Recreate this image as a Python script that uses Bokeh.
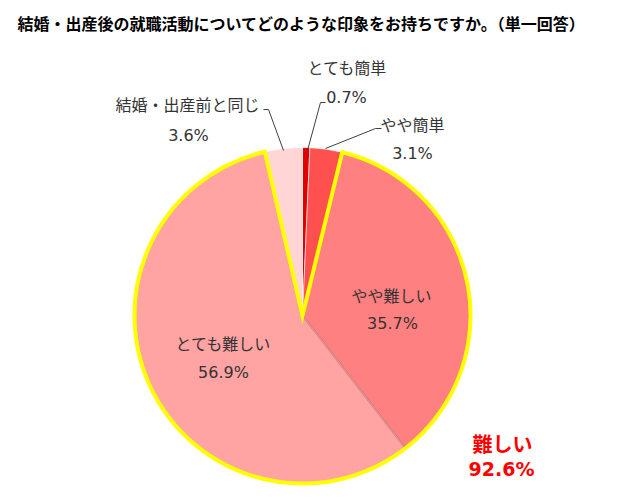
import numpy as np
from bokeh.plotting import figure
from bokeh.models import Range1d, ColumnDataSource
from bokeh.core.properties import value
from bokeh.embed import file_html
from bokeh.resources import INLINE

# ---- data ----
title = "結婚・出産後の就職活動についてどのような印象をお持ちですか。（単一回答）"
categories = ["とても簡単", "やや簡単", "やや難しい", "とても難しい", "結婚・出産前と同じ"]
values = [0.7, 3.1, 35.7, 56.9, 3.6]
colors = ["#E00000", "#FF5050", "#FF8080", "#FFA3A3", "#FFD5D5"]
group_label = "難しい"
group_members = ["やや難しい", "とても難しい"]

W, H = 622, 503
FONT = value("Noto Sans CJK JP")
NUMFONT = value("DejaVu Sans")

def Y(py):
    return H - py

p = figure(width=W, height=H, x_range=Range1d(0, W), y_range=Range1d(0, H),
           output_backend="svg", toolbar_location=None, min_border=0)
p.axis.visible = False
p.grid.visible = False
p.outline_line_color = None
p.background_fill_color = "white"
p.border_fill_color = "white"

cx, cy, r = 302, Y(315), 168

vals = np.array(values, dtype=float)
frac = vals / vals.sum()
cum_end = np.cumsum(frac)
cum_start = cum_end - frac
start = np.pi / 2 - 2 * np.pi * cum_start
end = np.pi / 2 - 2 * np.pi * cum_end

src = ColumnDataSource(dict(start=start, end=end, color=colors, cat=categories))
p.wedge(x=cx, y=cy, radius=r, start_angle="start", end_angle="end", direction="clock",
        fill_color="color", line_color="white", line_alpha=0.6, line_width=1, source=src)

# shadow line between the two "difficult" slices
i2 = categories.index("とても難しい")
ang = start[i2]
p.line([cx, cx + r * np.cos(ang)], [cy, cy + r * np.sin(ang)], line_color="#B05050",
       line_alpha=0.5, line_width=2)

# yellow outline around the "difficult" group
idx = [categories.index(c) for c in group_members]
g_start = start[min(idx)]
g_end = end[max(idx)]
p.wedge(x=cx, y=cy, radius=r, start_angle=g_start, end_angle=g_end, direction="clock",
        fill_color=None, line_color="#FFFF00", line_width=4, line_join="miter")

# leader lines
p.line([325, 320, 307], [Y(102), Y(102), Y(150)], line_color="#404040", line_width=1)
p.line([381, 375, 325], [Y(128), Y(128), Y(148)], line_color="#404040", line_width=1)
p.line([263, 268, 283], [Y(109), Y(109), Y(150)], line_color="#404040", line_width=1)

pct = [f"{v:.1f}%" for v in values]
# label positions (pixels)
lab_pos = [(347, 66, 346, 97), (412, 123, 412, 153), (391, 294, 392, 323),
           (223, 342, 223, 372), (187, 103, 188, 135)]
lx, ly, px_, py_ = [], [], [], []
for (a, b, c, d) in lab_pos:
    lx.append(a); ly.append(Y(b)); px_.append(c); py_.append(Y(d))
p.text(x=lx, y=ly, text=categories, text_font=FONT, text_font_size="16px",
       text_color="#333333", text_align="center", text_baseline="middle")
p.text(x=px_, y=py_, text=pct, text_font=NUMFONT, text_font_size="16px",
       text_color="#333333", text_align="center", text_baseline="middle")

# group total
gtotal = sum(values[i] for i in idx)
p.text(x=[502], y=[Y(443)], text=[group_label],
       text_font=FONT, text_font_size="20px", text_font_style="bold",
       text_color="#FF0000", text_align="center", text_baseline="middle")
p.text(x=[501], y=[Y(468)], text=[f"{gtotal:.1f}%"],
       text_font=NUMFONT, text_font_size="19px", text_font_style="bold",
       text_color="#FF0000", text_align="center", text_baseline="middle")

# title
p.text(x=[17], y=[Y(22)], text=[title], text_font=FONT, text_font_size="16px",
       text_font_style="bold", text_color="#000000", text_align="left",
       text_baseline="middle")

open("out.html", "w").write(file_html(p, INLINE))
